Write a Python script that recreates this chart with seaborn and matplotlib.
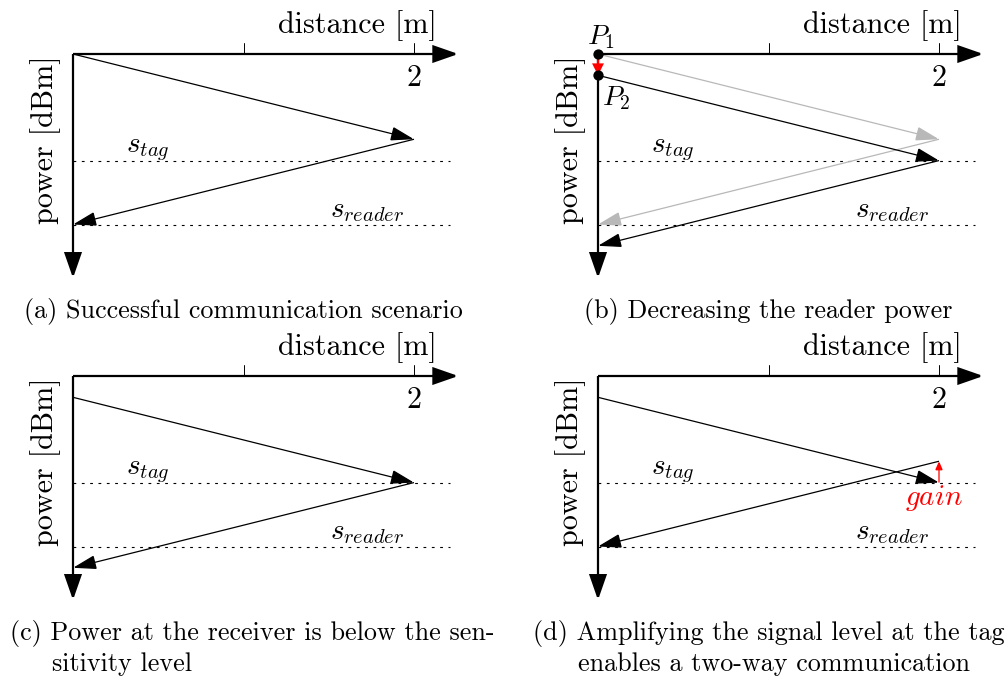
import matplotlib
matplotlib.use("Agg")
import matplotlib.pyplot as plt
from matplotlib.patches import FancyArrowPatch
import seaborn as sns
import pandas as pd

sns.set_theme(style="white")
plt.rcParams['font.family'] = ['cmr10', 'DejaVu Serif']
plt.rcParams['mathtext.fontset'] = 'cm'
plt.rcParams['axes.unicode_minus'] = False
plt.rcParams['lines.scale_dashes'] = False
plt.rcParams['text.color'] = 'black'

# ---------------- data (abstract units: distance [m], power drop) ----------------
x_tag = 2.0                      # tag position on the distance axis
x_ticks = [1.0, 2.0]
x_tick_labels = ["", "2"]
s_tag = 0.625                    # tag sensitivity level
s_reader = 1.0                   # reader sensitivity level
level_end = 2.21                 # extent of the dotted sensitivity lines

# (a) successful communication: tx power, level at tag, level back at reader
a_levels = [0.0, 0.5, 1.0]
# (b) decreasing the reader power: old path (gray) and new path (black)
b_old_levels = [0.0, 0.5, 1.0]
b_new_levels = [0.125, 0.625, 1.125]
P1, P2 = 0.0, 0.125
# (c) power at receiver below sensitivity
c_levels = [0.125, 0.625, 1.125]
# (d) amplification at the tag: tx, at tag, after gain, at reader
d_levels = [0.125, 0.625, 0.5, 1.0]

captions = {
    "a": ["(a) Successful communication scenario"],
    "b": ["(b) Decreasing the reader power"],
    "c": ["(c) Power at the receiver is below the sen-", "sitivity level"],
    "d": ["(d) Amplifying the signal level at the tag", "enables a two-way communication"],
}

# ---------------- layout ----------------
W, H = 1006, 679
S = 170.5  # px per unit
fig = plt.figure(figsize=(W / 100, H / 100), dpi=100)

def make_panel(left_px, top_px, width_px, height_px, ox, oy):
    ax = fig.add_axes([left_px / W, 1 - (top_px + height_px) / H, width_px / W, height_px / H])
    ax.set_xlim((left_px - ox) / S, (left_px + width_px - ox) / S)
    ax.set_ylim((top_px + height_px - oy) / S, (top_px - oy) / S)
    ax.set_axis_off()
    return ax

def arrow(ax, p0, p1, color="black", lw=1.0, hl=14.5, hw=4.4, z=3):
    a = FancyArrowPatch(p0, p1, arrowstyle=f"-|>,head_length={hl},head_width={hw}",
                        mutation_scale=1, lw=lw, color=color, shrinkA=0, shrinkB=0,
                        joinstyle="miter", capstyle="butt", zorder=z, clip_on=False)
    ax.add_patch(a)

FS = 21.7
MFS = 21
CFS = 18.8
def axes_frame(ax):
    arrow(ax, (0, 0), (2.26, 0), lw=1.6, hl=15.5, hw=5.4, z=4)
    arrow(ax, (0, 0), (0, 1.314), lw=1.6, hl=15.5, hw=5.4, z=4)
    for xt, lab in zip(x_ticks, x_tick_labels):
        sns.lineplot(x=[xt, xt], y=[0, -0.062], ax=ax, color="black", lw=0.7,
                     estimator=None, sort=False)
        if lab:
            ax.text(xt, 0.14, lab, fontsize=FS, ha="center", va="center")
    ax.text(2.135, -0.123, "distance [m]", fontsize=FS, ha="right", va="baseline")
    ax.text(-0.158, 0.5, "power [dBm]", fontsize=FS, rotation=90, ha="center", va="center")
    for lvl in (s_tag, s_reader):
        df = pd.DataFrame({"x": [0, level_end], "y": [lvl, lvl]})
        sns.lineplot(data=df, x="x", y="y", ax=ax, color="black", lw=0.8,
                     linestyle=(0, (2.0, 4.0)), estimator=None)
    ax.text(0.44, 0.56, r"$s_{tag}$", fontsize=MFS, ha="center", va="center")
    ax.text(1.725, 0.92, r"$s_{reader}$", fontsize=MFS, ha="center", va="center")

def caption(ax, lines, cx=None, lefts=None):
    ys = [1.548, 1.73]
    if cx is not None:
        ax.text(cx, ys[0], lines[0], fontsize=CFS, ha="center", va="baseline")
    else:
        for line, xl, yv in zip(lines, lefts, ys):
            ax.text(xl, yv, line, fontsize=CFS, ha="left", va="baseline")

def round_trip(ax, levels, color="black", lw=0.9):
    arrow(ax, (0, levels[0]), (x_tag, levels[1]), color=color, lw=lw)
    arrow(ax, (x_tag, levels[-2]), (0, levels[-1]), color=color, lw=lw)

# panel a
axA = make_panel(0, 0, 503, 340, 73, 54)
lims = (axA.get_xlim(), axA.get_ylim())
axes_frame(axA)
round_trip(axA, a_levels)
caption(axA, captions["a"], cx=1.0)
axA.set_xlim(lims[0]); axA.set_ylim(lims[1])

# panel b
axB = make_panel(503, 0, 503, 340, 598, 54)
lims = (axB.get_xlim(), axB.get_ylim())
axes_frame(axB)
round_trip(axB, b_old_levels, color="#b8b8b8", lw=0.9)
round_trip(axB, b_new_levels)
arrow(axB, (0, P1), (0, P2), color="red", lw=1.6, hl=6, hw=3.0, z=5)
dots = pd.DataFrame({"x": [0, 0], "y": [P1, P2]})
sns.scatterplot(data=dots, x="x", y="y", ax=axB, color="black", s=55, zorder=6,
                edgecolor="black", linewidth=0, clip_on=False)
axB.text(0.018, -0.10, r"$P_1$", fontsize=20, ha="center", va="center")
axB.text(0.11, 0.258, r"$P_2$", fontsize=20, ha="center", va="center")
caption(axB, captions["b"], cx=1.0)
axB.set_xlim(lims[0]); axB.set_ylim(lims[1])

# panel c
axC = make_panel(0, 340, 503, 339, 73, 376)
lims = (axC.get_xlim(), axC.get_ylim())
axes_frame(axC)
round_trip(axC, c_levels)
caption(axC, captions["c"], lefts=[-0.37, -0.123])
axC.set_xlim(lims[0]); axC.set_ylim(lims[1])

# panel d
axD = make_panel(503, 340, 503, 339, 598, 376)
lims = (axD.get_xlim(), axD.get_ylim())
axes_frame(axD)
round_trip(axD, d_levels)
arrow(axD, (x_tag, d_levels[1]), (x_tag, d_levels[2]), color="red", lw=0.9, hl=5, hw=2.2, z=5)
axD.text(1.97, 0.716, r"$gain$", fontsize=MFS, color="red", ha="center", va="center")
caption(axD, captions["d"], lefts=[-0.381, -0.117])
axD.set_xlim(lims[0]); axD.set_ylim(lims[1])

for ax in (axA, axB, axC, axD):
    leg = ax.get_legend()
    if leg:
        leg.remove()

fig.savefig("out.png", dpi=100)
